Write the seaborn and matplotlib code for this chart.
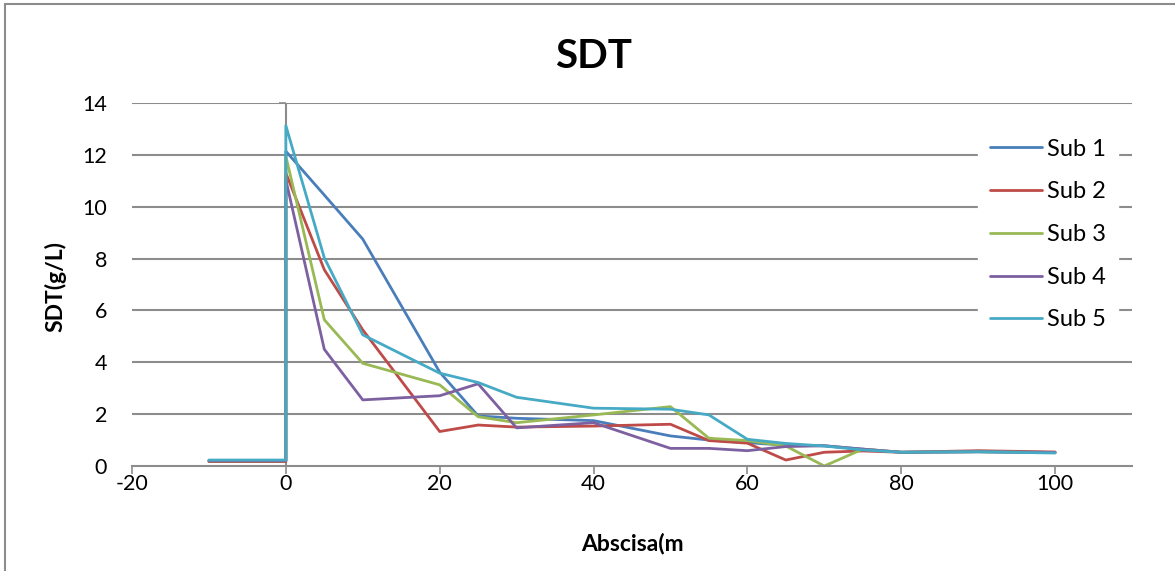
import numpy as np
import pandas as pd
import matplotlib
matplotlib.use("Agg")
import matplotlib.pyplot as plt
from matplotlib.patches import Rectangle
import seaborn as sns

# ---- data ----
abscisa = [-10, 0, 0, 5, 10, 20, 25, 30, 40, 50, 55, 60, 65, 70, 75, 80, 90, 100]
sub1 = [0.20, 0.20, 12.14, 10.45, 8.75, 3.62, 1.93, 1.84, 1.75, 1.16, 1.00, 0.90, 0.80, 0.78, 0.65, 0.53, 0.55, 0.52]
sub2 = [0.17, 0.17, 11.30, 7.57, 5.25, 1.33, 1.58, 1.50, 1.54, 1.61, 0.98, 0.88, 0.23, 0.53, 0.58, 0.53, 0.59, 0.54]
sub3 = [0.20, 0.20, 11.95, 5.64, 3.96, 3.13, 1.90, 1.67, 1.97, 2.29, 1.07, 0.98, 0.77, 0.00, 0.65, 0.53, 0.55, 0.52]
sub4 = [0.20, 0.20, 11.04, 4.50, 2.55, 2.71, 3.17, 1.47, 1.67, 0.68, 0.68, 0.59, 0.75, 0.78, 0.65, 0.53, 0.55, 0.52]
sub5 = [0.23, 0.23, 13.13, 8.03, 5.06, 3.58, 3.22, 2.65, 2.23, 2.19, 1.97, 1.03, 0.87, 0.77, 0.62, 0.53, 0.55, 0.50]
series_names = ["Sub 1", "Sub 2", "Sub 3", "Sub 4", "Sub 5"]
colors = ["#4A7EBB", "#BE4B48", "#98B954", "#7D60A0", "#46AAC5"]
y_ticks = [0, 2, 4, 6, 8, 10, 12, 14]
x_ticks = [-20, 0, 20, 40, 60, 80, 100]

rows = []
for name, vals in zip(series_names, [sub1, sub2, sub3, sub4, sub5]):
    for i, (x, y) in enumerate(zip(abscisa, vals)):
        rows.append({"Abscisa": x, "SDT": y, "Serie": name, "ord": i})
df = pd.DataFrame(rows)

sns.set_theme(style="white")
plt.rcParams["font.family"] = ["Lato", "DejaVu Sans"]
plt.rcParams["axes.unicode_minus"] = False
plt.rcParams["text.color"] = "black"
plt.rcParams["axes.labelcolor"] = "black"

fig = plt.figure(figsize=(11.75, 5.71), dpi=100)
ax = fig.add_axes([132 / 1175, 1 - 466 / 571, 1000 / 1175, 363 / 571])

grid_c = "#8C8C8C"
for t in y_ticks[1:]:
    ax.axhline(t, color=grid_c, lw=1.5, zorder=0)

sns.lineplot(data=df, x="Abscisa", y="SDT", hue="Serie", palette=colors,
             estimator=None, sort=False, units="Serie", lw=2, ax=ax, legend=True)

ax.set_xlim(-20, 110)
ax.set_ylim(0, 14)
ax.set_xticks(x_ticks)
ax.set_yticks(y_ticks)
for s in ["top", "right", "left"]:
    ax.spines[s].set_visible(False)
ax.spines["bottom"].set_color(grid_c)
ax.spines["bottom"].set_linewidth(1.5)
ax.tick_params(axis="x", direction="out", length=6, width=1.2, color=grid_c,
               labelsize=15.5, pad=0, labelcolor="black", bottom=True)
ax.tick_params(axis="y", length=0, labelsize=15.5, pad=18, labelcolor="black")

# vertical axis at x = 0
ax.axvline(0, color=grid_c, lw=1.5, zorder=0)
sec = ax.secondary_yaxis(20 / 130)
sec.set_yticks(y_ticks)
sec.tick_params(axis="y", direction="out", length=5, width=1.2, color=grid_c, labelleft=False)
sec.spines["left"].set_visible(False)

ax.set_xlabel("Abscisa(m", fontsize=16.5, fontweight="bold", color="black")
ax.xaxis.set_label_coords(0.5, (466 - 543) / 363)
ax.xaxis.label.set_va("center")
ax.set_ylabel("SDT(g/L)", fontsize=16.5, fontweight="bold", color="black")
ax.yaxis.set_label_coords((55 - 132) / 1000, (466 - 287) / 363)
ax.yaxis.label.set_va("center")
fig.text(594 / 1175, 1 - 57 / 571, "SDT", ha="center", va="center", fontsize=29,
         fontweight="bold", color="black")

h, l = ax.get_legend_handles_labels()
leg = ax.legend(h, l, loc="upper left", bbox_to_anchor=(966 / 1175, 1 - 115 / 571),
                bbox_transform=fig.transFigure, frameon=True, facecolor="white",
                edgecolor="white", framealpha=1, fancybox=False, fontsize=17,
                handlelength=2.2, labelspacing=0.92, borderpad=0.5, handletextpad=0.25)
for line in leg.get_lines():
    line.set_linewidth(2)
for t in leg.get_texts():
    t.set_color("black")

fig.patches.append(Rectangle((5 / 1175, -0.1), 1.2, 1 - 4 / 571 + 0.1, transform=fig.transFigure,
                             fill=False, edgecolor="#8C8C8C", lw=1.5))

fig.savefig("out.png", dpi=100)
